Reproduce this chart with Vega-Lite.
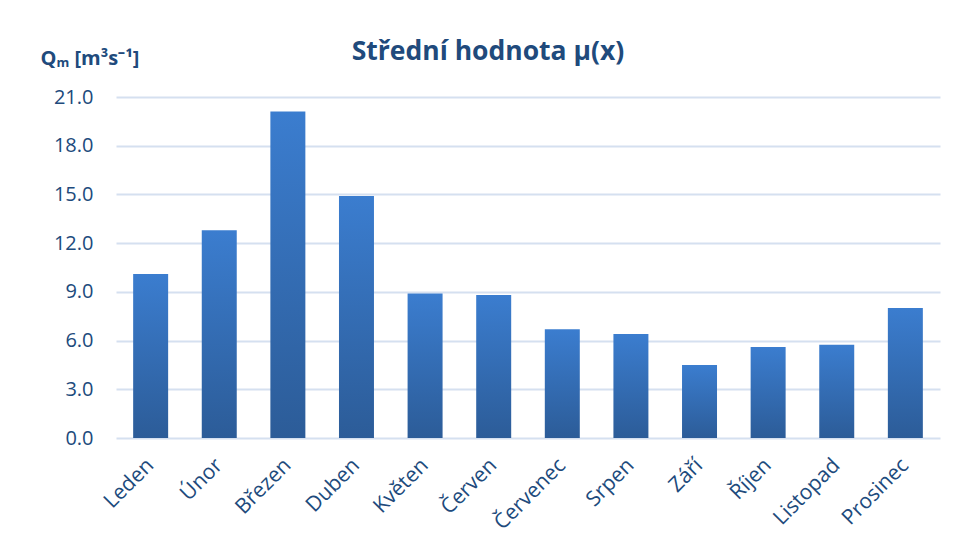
{
  "$schema": "https://vega.github.io/schema/vega-lite/v6.json",
  "width": 824,
  "height": 341,
  "autosize": {"type": "none"},
  "padding": {"left": 116, "top": 97, "right": 13, "bottom": 102},
  "background": "white",
  "config": {
    "view": {"stroke": null},
    "font": "Open Sans"
  },
  "title": {
    "text": "Střední hodnota μ(x)",
    "fontSize": 26.5,
    "fontWeight": "bold",
    "color": "#204a7c",
    "anchor": "middle",
    "dx": -40,
    "offset": -17,
    "font": "Open Sans"
  },
  "data": {
    "values": [
      {"mesic": "Leden", "q": 10.1},
      {"mesic": "Únor", "q": 12.8},
      {"mesic": "Březen", "q": 20.1},
      {"mesic": "Duben", "q": 14.9},
      {"mesic": "Květen", "q": 8.9},
      {"mesic": "Červen", "q": 8.8},
      {"mesic": "Červenec", "q": 6.7},
      {"mesic": "Srpen", "q": 6.4},
      {"mesic": "Září", "q": 4.5},
      {"mesic": "Říjen", "q": 5.6},
      {"mesic": "Listopad", "q": 5.75},
      {"mesic": "Prosinec", "q": 8.0}
    ]
  },
  "mark": {
    "type": "bar",
    "color": {
      "gradient": "linear",
      "x1": 0, "y1": 0, "x2": 0, "y2": 1,
      "stops": [
        {"offset": 0, "color": "#3b7dcf"},
        {"offset": 1, "color": "#2c5c98"}
      ]
    }
  },
  "encoding": {
    "x": {
      "field": "mesic",
      "type": "nominal",
      "sort": null,
      "scale": {"paddingInner": 0.49, "paddingOuter": 0.25},
      "axis": {
        "title": null,
        "labelAngle": -45,
        "labelAlign": "right",
        "labelBaseline": "middle",
        "labelFontSize": 21,
        "labelColor": "#204a7c",
        "labelPadding": 24,
        "ticks": false,
        "domain": false,
        "labelFont": "Open Sans"
      }
    },
    "y": {
      "field": "q",
      "type": "quantitative",
      "scale": {"domain": [0, 21], "nice": false},
      "axis": {
        "title": "Qₘ [m³s⁻¹]",
        "titleAngle": 0,
        "titleX": -76,
        "titleY": -39,
        "titleAlign": "left",
        "titleBaseline": "middle",
        "titleFontSize": 20,
        "titleFontWeight": "bold",
        "titleColor": "#204a7c",
        "titleFont": "Open Sans",
        "values": [0, 3, 6, 9, 12, 15, 18, 21],
        "format": ".1f",
        "labelFontSize": 20,
        "labelColor": "#204a7c",
        "labelPadding": 23,
        "labelFont": "Open Sans",
        "ticks": false,
        "domain": false,
        "grid": true,
        "gridColor": "#d5e0f0",
        "gridWidth": 2
      }
    }
  }
}
